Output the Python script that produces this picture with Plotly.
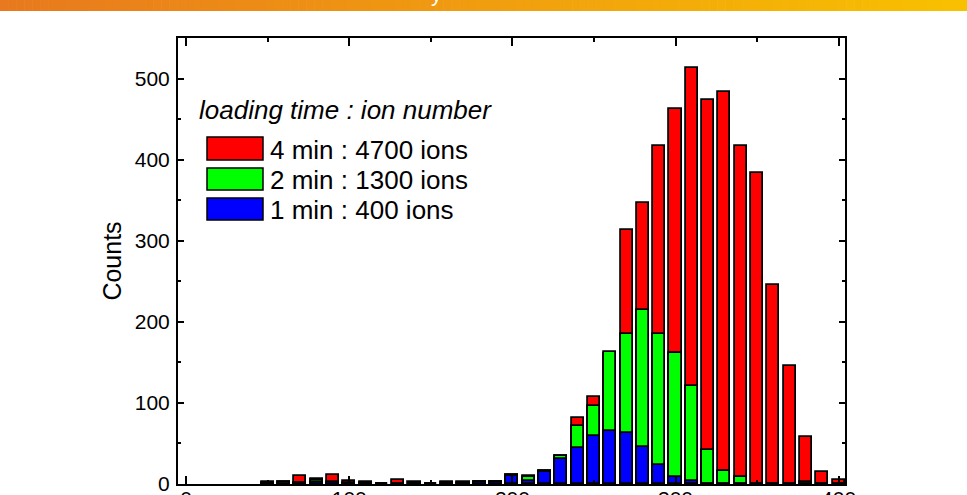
import plotly.graph_objects as go

# Histogram bins (bin centres) and counts for the three loading times
bin_centers = [50, 60, 70, 80, 90, 100, 110, 120, 130, 140, 150, 160, 170, 180, 190,
               200, 210, 220, 230, 240, 250, 260, 270, 280, 290, 300, 310, 320, 330,
               340, 350, 360, 370, 380, 390, 400]
counts_4min = [2, 2, 10, 6, 11, 4, 2, 0, 5, 3, 0, 2, 2, 2, 2,
               11, 10, 16, 35, 82, 107, 160, 313, 346, 417, 463, 513, 473, 484,
               417, 384, 246, 146, 58, 15, 5]
counts_2min = [1, 2, 1, 5, 1, 1, 1, 0, 0, 0, 0, 1, 1, 2, 2,
               11, 9, 16, 34, 71, 96, 163, 185, 215, 185, 161, 121, 42, 16,
               9, 0, 0, 0, 3, 0, 0]
counts_1min = [1, 0, 1, 3, 2, 0, 1, 0, 0, 0, 0, 0, 0, 2, 2,
               10, 4, 15, 31, 44, 59, 65, 63, 46, 24, 9, 4, 0, 0,
               0, 0, 0, 0, 0, 0, 0]

series_labels = ["4 min : 4700 ions", "2 min : 1300 ions", "1 min : 400 ions"]
series_colors = ["#ff0000", "#00ff00", "#0000ff"]
legend_title = "loading time : ion number"

y_ticks = [0, 100, 200, 300, 400, 500]
x_ticks = [0, 100, 200, 300, 400]

FONT = "Arial, 'Liberation Sans', sans-serif"
W, H = 967, 495
ML, MR, MT, MB = 178, 122, 38, 11
PW, PH = W - ML - MR, H - MT - MB


def px_x(px):
    """Pixel column -> paper x."""
    return (px - ML) / PW


def px_y(py):
    """Pixel row -> paper y."""
    return (H - MB - py) / PH


fig = go.Figure()
for vals, name, col in zip([counts_4min, counts_2min, counts_1min], series_labels, series_colors):
    fig.add_trace(go.Bar(
        x=bin_centers, y=vals, name=name, width=7.4,
        marker=dict(color=col, line=dict(color="black", width=1.8)),
        showlegend=False,
    ))

shapes = []
# orange gradient banner across the top edge
n_strips = 120
c0, c1 = (232, 121, 30), (248, 193, 0)
for i in range(n_strips):
    t = i / (n_strips - 1)
    r = round(c0[0] + (c1[0] - c0[0]) * t)
    g = round(c0[1] + (c1[1] - c0[1]) * t)
    b = round(c0[2] + (c1[2] - c0[2]) * t)
    x0 = W * i / n_strips
    x1 = W * (i + 1) / n_strips + 0.6
    shapes.append(dict(type="rect", xref="paper", yref="paper",
                       x0=px_x(x0), x1=px_x(x1), y0=px_y(11), y1=px_y(-2),
                       fillcolor=f"rgb({r},{g},{b})", line=dict(width=0), layer="above"))

# legend swatches
box_rows = [(137, 160), (168, 190), (198, 220)]
for (top, bot), col in zip(box_rows, series_colors):
    shapes.append(dict(type="rect", xref="paper", yref="paper",
                       x0=px_x(207), x1=px_x(263), y0=px_y(bot), y1=px_y(top),
                       fillcolor=col, line=dict(color="black", width=1.5)))

annotations = [
    dict(text="<i>" + legend_title + "</i>", xref="paper", yref="paper",
         x=px_x(197), y=px_y(110), xanchor="left", yanchor="middle",
         showarrow=False, font=dict(family=FONT, size=26, color="black")),
    dict(text="y", xref="paper", yref="paper", x=px_x(436), y=px_y(-6),
         xanchor="center", yanchor="middle", showarrow=False,
         font=dict(family=FONT, size=22, color="white")),
]
for (top, bot), lab in zip(box_rows, series_labels):
    annotations.append(dict(text=lab, xref="paper", yref="paper",
                            x=px_x(268), y=px_y((top + bot) / 2 + 1),
                            xanchor="left", yanchor="middle", showarrow=False,
                            font=dict(family=FONT, size=26, color="black")))

fig.update_layout(
    width=W, height=H,
    margin=dict(l=ML, r=MR, t=MT, b=MB, pad=0),
    paper_bgcolor="white", plot_bgcolor="white",
    barmode="overlay", bargap=0,
    font=dict(family=FONT, color="black"),
    shapes=shapes, annotations=annotations,
    xaxis=dict(range=[-5, 403.9], tickvals=x_ticks, ticks="inside", ticklen=8,
               tickwidth=1.5, tickcolor="black", showline=True, linecolor="black",
               linewidth=2, mirror="ticks", showgrid=False, zeroline=False,
               tickfont=dict(size=21, family=FONT), automargin=False,
               ticklabelstandoff=-5, ticklabeloverflow="allow",
               minor=dict(dtick=50, tick0=0, ticks="inside", ticklen=4, tickwidth=1.5,
                          tickcolor="black", showgrid=False)),
    yaxis=dict(range=[0, 550], tickvals=y_ticks, ticks="inside", ticklen=6,
               tickwidth=1.5, tickcolor="black", showline=True, linecolor="black",
               linewidth=2, mirror="ticks", showgrid=False, zeroline=False,
               tickfont=dict(size=21, family=FONT), automargin=False,
               ticklabelstandoff=2, ticklabeloverflow="allow",
               title=dict(text="Counts", font=dict(size=25, family=FONT), standoff=6),
               minor=dict(dtick=50, tick0=0, ticks="inside", ticklen=3, tickwidth=1.5,
                          tickcolor="black", showgrid=False)),
)

fig.write_html("out.html")
